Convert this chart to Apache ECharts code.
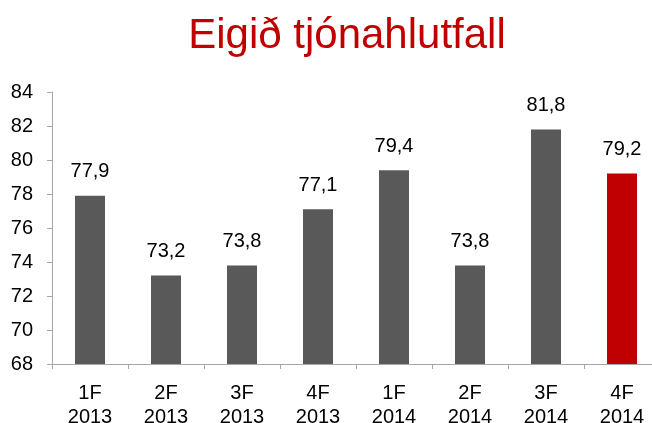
<!DOCTYPE html>
<html><head><meta charset="utf-8">
<script src="https://cdn.jsdelivr.net/npm/echarts@6/dist/echarts.min.js"></script>
<style>html,body{margin:0;padding:0;background:#fff}#c{width:652px;height:423px}</style>
</head><body><div id="c"></div>
<script>
const titleText = "Eigið tjónahlutfall";
const categories = ["1F\n2013","2F\n2013","3F\n2013","4F\n2013","1F\n2014","2F\n2014","3F\n2014","4F\n2014"];
const values = [77.9, 73.2, 73.8, 77.1, 79.4, 73.8, 81.8, 79.2];
const highlightIndex = 7;
const yTicks = {min: 68, max: 84, interval: 2};

const chart = echarts.init(document.getElementById('c'));
const font = '"Liberation Sans", Arial, sans-serif';
chart.setOption({
  animation: false,
  title: {text: titleText, left: 342, top: 10, textAlign: 'center',
    textStyle: {color: '#C00000', fontSize: 42, fontWeight: 'normal', fontFamily: font}},
  grid: {left: 52, right: -8, top: 92, bottom: 59, outerBoundsMode: 'none', containLabel: false},
  xAxis: {type: 'category', data: categories,
    axisLine: {lineStyle: {color: '#a6a6a6'}},
    axisTick: {show: true, length: 5, lineStyle: {color: '#a6a6a6'}},
    axisLabel: {color: '#000', fontSize: 20, fontFamily: font, margin: 17, lineHeight: 24}},
  yAxis: {type: 'value', min: yTicks.min, max: yTicks.max, interval: yTicks.interval,
    axisLine: {show: true, lineStyle: {color: '#a6a6a6'}},
    axisTick: {show: true, length: 5, lineStyle: {color: '#a6a6a6'}},
    splitLine: {show: false},
    axisLabel: {color: '#000', fontSize: 20, fontFamily: font, margin: 19}},
  series: [{type: 'bar', barWidth: 30,
    data: values.map((v, i) => ({value: v, itemStyle: {color: i === highlightIndex ? '#C00000' : '#595959'}})),
    label: {show: true, position: 'top', distance: 14, color: '#000', fontSize: 20, fontFamily: font,
      formatter: p => String(p.value.toFixed(1)).replace('.', ',')}}]
});
</script></body></html>
